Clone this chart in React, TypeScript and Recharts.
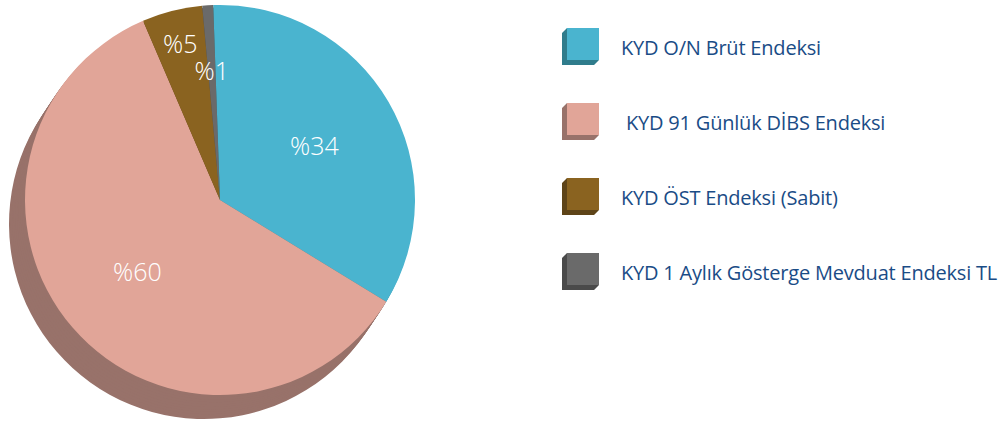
import { Legend, Pie, PieChart, Cell } from "recharts";

const names = [
	"KYD O/N Brüt Endeksi",
	" KYD 91 Günlük DİBS Endeksi",
	"KYD ÖST Endeksi (Sabit)",
	"KYD 1 Aylık Gösterge Mevduat Endeksi TL",
];
const shares = [34.3, 59.8, 5.0, 0.9];
const labels = ["%34", "%60", "%5", "%1"];

const colors = ["#4ab4cf", "#e1a598", "#8a6320", "#6a6a6a"];
const darkColors = ["#2f7c8c", "#98726a", "#5e4418", "#4a4a4a"];
// how far out each percent label sits (fraction of radius)
const labelPos = [0.56, 0.56, 0.83, 0.67];

const data = names.map((name, i) => ({ name, value: shares[i] }));

// chart has a default 5px margin, cx/cy are measured from it
const CX = 215;
const CY = 195;
const R = 195;
const SHADOW_DX = -16;
const SHADOW_DY = 24;
const LAYERS = 10;

const RADIAN = Math.PI / 180;

const renderLabel = (props: any) => {
	const { cx, cy, midAngle, outerRadius, index } = props;
	const r = outerRadius * labelPos[index];
	const x = cx + r * Math.cos(-midAngle * RADIAN);
	const y = cy + r * Math.sin(-midAngle * RADIAN);
	return (
		<text
			x={x}
			y={y}
			fill="#ffffff"
			textAnchor="middle"
			dominantBaseline="central"
			fontFamily="'Open Sans', sans-serif"
			fontWeight={300}
			fontSize={25}
		>
			{labels[index]}
		</text>
	);
};

const LegendBoxes = () => (
	<div style={{ fontFamily: "'Open Sans', sans-serif" }}>
		{names.map((n, i) => (
			<div
				key={n}
				style={{ display: "flex", alignItems: "center", height: 75 }}
			>
				<svg width={40} height={40} style={{ marginRight: 19 }}>
					{/* extruded side + bottom */}
					<polygon
						points="0,5 5,0 5,32 37,32 32,37 0,37"
						fill={darkColors[i]}
					/>
					<rect x={5} y={0} width={32} height={32} fill={colors[i]} />
				</svg>
				<span
					style={{
						color: "#1a4c86",
						fontSize: 20,
						letterSpacing: -0.2,
						whiteSpace: "pre",
					}}
				>
					{n}
				</span>
			</div>
		))}
	</div>
);

const shadowLayers = Array.from({ length: LAYERS }, (_, k) => LAYERS - k);

export default function App() {
	return (
		<div style={{ position: "absolute", left: 0, top: 0 }}>
			<PieChart width={1000} height={423}>
				{shadowLayers.map((k) => (
					<Pie
						key={`s${k}`}
						data={data}
						dataKey="value"
						cx={CX + (SHADOW_DX * k) / LAYERS}
						cy={CY + (SHADOW_DY * k) / LAYERS}
						outerRadius={R}
						startAngle={92}
						endAngle={-268}
						stroke="none"
						isAnimationActive={false}
					>
						{data.map((d, i) => (
							<Cell key={d.name} fill={darkColors[i]} />
						))}
					</Pie>
				))}
				<Pie
					data={data}
					dataKey="value"
					cx={CX}
					cy={CY}
					outerRadius={R}
					startAngle={92}
					endAngle={-268}
					stroke="none"
					label={renderLabel}
					labelLine={false}
					isAnimationActive={false}
				>
					{data.map((d, i) => (
						<Cell key={d.name} fill={colors[i]} />
					))}
				</Pie>
				<Legend
					content={<LegendBoxes />}
					wrapperStyle={{ left: 562, top: 10, width: 440 }}
				/>
			</PieChart>
		</div>
	);
}
